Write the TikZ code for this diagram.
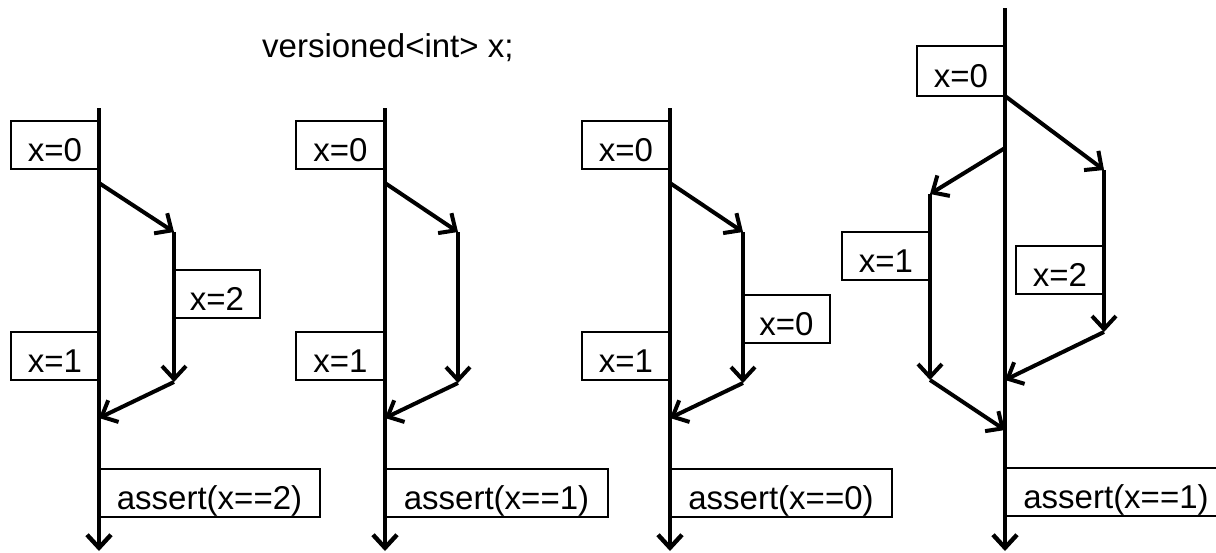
\documentclass[tikz,border=0pt]{standalone}
\usepackage{fontspec}
\newfontfamily\valfont{Liberation Sans}
\usetikzlibrary{arrows.meta}
\tikzset{
  lane/.style={line width=4.4pt, -{Straight Barb[length=13pt,width=24pt]}},
  flow/.style={line width=4pt, -{Straight Barb[length=13pt,width=24pt]}},
  val/.style={draw, line width=2pt, fill=white, inner sep=0pt, outer sep=0pt,
    text height=40pt, text depth=8pt, font={\valfont\fontsize{33}{40}\selectfont}},
  decl/.style={inner sep=0pt, font={\valfont\fontsize{33}{40}\selectfont}}
}
\begin{document}
\begin{tikzpicture}[x=1pt,y=-1pt]
\useasboundingbox (0,0) rectangle (1216,552);
\clip (0,0) rectangle (1216,552);

\node[decl, anchor=base west] (head) at (262,57) {versioned<int> x;};

% ---- first run: writes 0, 2 on a branch, 1 on the trunk ----
\node[val, minimum width=88pt, anchor=north east] (a0) at (99,121) {x=0};
\node[val, minimum width=88pt, anchor=north east] (a1) at (99,332) {x=1};
\node[val, minimum width=86pt, anchor=north west] (a2) at (174,270) {x=2};
\node[val, minimum width=221pt, anchor=north west] (aa) at (99,469) {assert(x==2)};
\coordinate (at) at (99,108);  \coordinate (ab) at (99,551);
\coordinate (as) at (99,183);  \coordinate (ak) at (174,232);
\coordinate (ae) at (174,382); \coordinate (aj) at (99,418);
\draw[lane] (at) -- (ab);
\draw[flow] (as) -- (ak);
\draw[flow] (ak) -- (ae);
\draw[flow] (ae) -- (aj);

% ---- second run: branch writes nothing ----
\node[val, minimum width=89pt, anchor=north east] (b0) at (385,121) {x=0};
\node[val, minimum width=89pt, anchor=north east] (b1) at (385,332) {x=1};
\node[val, minimum width=223pt, anchor=north west] (ba) at (385,469) {assert(x==1)};
\coordinate (bt) at (385,108);  \coordinate (bb) at (385,551);
\coordinate (bs) at (385,183);  \coordinate (bk) at (458,232);
\coordinate (be) at (458,383);  \coordinate (bj) at (385,418);
\draw[lane] (bt) -- (bb);
\draw[flow] (bs) -- (bk);
\draw[flow] (bk) -- (be);
\draw[flow] (be) -- (bj);

% ---- third run: branch writes 0 again ----
\node[val, minimum width=88pt, anchor=north east] (c0) at (670,121) {x=0};
\node[val, minimum width=88pt, anchor=north east] (c1) at (670,332) {x=1};
\node[val, minimum width=87pt, anchor=north west] (c2) at (743,295) {x=0};
\node[val, minimum width=222pt, anchor=north west] (ca) at (670,469) {assert(x==0)};
\coordinate (ct) at (670,108);  \coordinate (cb) at (670,551);
\coordinate (cs) at (670,183);  \coordinate (ck) at (743,232);
\coordinate (ce) at (743,383);  \coordinate (cj) at (670,418);
\draw[lane] (ct) -- (cb);
\draw[flow] (cs) -- (ck);
\draw[flow] (ck) -- (ce);
\draw[flow] (ce) -- (cj);

% ---- fourth run: two branches, merged in order ----
\node[val, minimum width=88pt, minimum height=50pt, anchor=north east] (d0) at (1005,46) {x=0};
\node[val, minimum width=88pt, anchor=north east] (d1) at (930,232) {x=1};
\node[val, minimum width=88pt, anchor=north east] (d2) at (1104,246) {x=2};
\node[val, minimum width=222pt, anchor=north west] (da) at (1005,468) {assert(x==1)};
\coordinate (dt) at (1005,8);    \coordinate (db) at (1005,551);
\coordinate (drs) at (1005,96);  \coordinate (drk) at (1104,170);
\coordinate (dre) at (1104,332); \coordinate (drj) at (1005,380);
\coordinate (dls) at (1005,148); \coordinate (dlk) at (930,194);
\coordinate (dle) at (930,380);  \coordinate (dlj) at (1005,430);
\draw[lane] (dt) -- (db);
\draw[flow] (drs) -- (drk);
\draw[flow] (drk) -- (dre);
\draw[flow] (dre) -- (drj);
\draw[flow] (dls) -- (dlk);
\draw[flow] (dlk) -- (dle);
\draw[flow] (dle) -- (dlj);
\end{tikzpicture}
\end{document}
